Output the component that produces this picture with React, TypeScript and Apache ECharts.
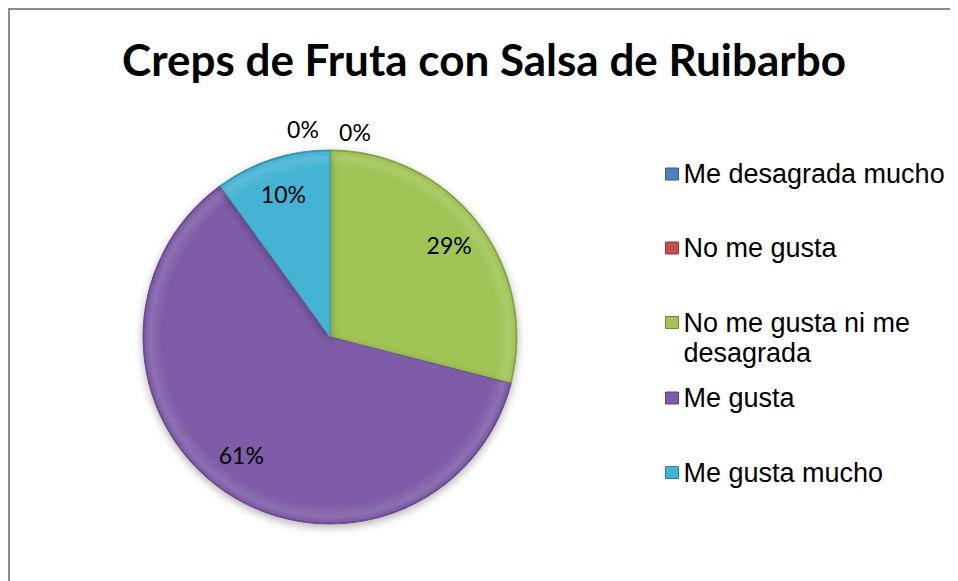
import React, { useEffect, useRef } from 'react';
import * as echarts from 'echarts';

// ---- data ----
const categories = [
  'Me desagrada mucho',
  'No me gusta',
  'No me gusta ni me desagrada',
  'Me gusta',
  'Me gusta mucho',
];
const values = [0, 0, 29, 61, 10];
const legendTexts = [
  'Me desagrada mucho',
  'No me gusta',
  '\nNo me gusta ni me\ndesagrada',
  'Me gusta',
  'Me gusta mucho',
];
const titleText = 'Creps de Fruta con Salsa de Ruibarbo';

// ---- styles ----
const sliceColors = ['#4F81BD', '#C0504D', '#A0C455', '#7E5CA7', '#45B3D3'];

function mix(hex: string, target: number, t: number): string {
  const n = parseInt(hex.slice(1), 16);
  const r = (n >> 16) & 255, g = (n >> 8) & 255, b = n & 255;
  const f = (c: number) => Math.round(c + (target - c) * t);
  return `rgb(${f(r)},${f(g)},${f(b)})`;
}

const CX = 320, CY = 327, R = 187;

export default function App() {
  const ref = useRef<HTMLDivElement>(null);
  useEffect(() => {
    if (!ref.current) return;
    const chart = echarts.init(ref.current, undefined, { renderer: 'svg' });

    const mainData = categories.map((name, i) => ({
      name,
      value: values[i],
      itemStyle: {
        color: {
          type: 'radial', x: CX, y: CY, r: R, global: true,
          colorStops: [
            { offset: 0, color: sliceColors[i] },
            { offset: 0.9, color: sliceColors[i] },
            { offset: 0.96, color: mix(sliceColors[i], 255, 0.12) },
            { offset: 0.99, color: sliceColors[i] },
            { offset: 1, color: mix(sliceColors[i], 0, 0.35) },
          ],
        },
        borderColor: mix(sliceColors[i], 0, 0.15),
        borderWidth: values[i] > 0 ? 1 : 0,
        shadowBlur: 8,
        shadowOffsetY: 3,
        shadowColor: 'rgba(0,0,0,0.3)',
      },
    }));
    const plainData = categories.map((name, i) => ({ name, value: values[i] }));

    const zeroIdx = values.map((v, i) => (v === 0 ? i : -1)).filter((i) => i >= 0);

    const iconCenters = [164, 238, 312.5, 388, 462.5];
    const legends = categories.map((name, i) => {
      const lines = legendTexts[i].split('\n').length;
      return {
        data: [{ name, itemStyle: { color: sliceColors[i], borderColor: mix(sliceColors[i], 0, 0.3), borderWidth: 1 } }],
        orient: 'vertical',
        left: 655,
        top: iconCenters[i] - 15 * lines,
        padding: 0,
        itemWidth: 13,
        itemHeight: 12,
        icon: 'rect',
        selectedMode: false,
        formatter: () => legendTexts[i],
        textStyle: {
          fontFamily: '"Liberation Sans", Arial, sans-serif',
          fontSize: 27,
          lineHeight: 30,
          color: '#000',
        },
      };
    });

    const labelFont = { fontFamily: 'Lato, "Noto Sans", sans-serif', fontSize: 23, color: '#000' };

    chart.setOption({
      animation: false,
      title: {
        text: titleText,
        left: 'center',
        top: 22,
        textStyle: {
          fontFamily: 'Lato, "Open Sans", sans-serif',
          fontWeight: 'bold',
          fontSize: 44,
          color: '#000',
        },
      },
      legend: legends,
      series: [
        {
          type: 'pie',
          center: [CX, CY],
          radius: R,
          startAngle: 90,
          clockwise: true,
          silent: true,
          label: { show: false },
          labelLine: { show: false },
          emphasis: { disabled: true },
          data: mainData,
        },
        {
          type: 'pie',
          center: [CX, CY],
          radius: [R * 0.58, R],
          startAngle: 90,
          clockwise: true,
          silent: true,
          itemStyle: { color: 'rgba(0,0,0,0)', borderWidth: 0 },
          label: {
            show: true,
            position: 'inside',
            ...labelFont,
            formatter: (p: any) => (p.value > 0 ? `${Math.round(p.percent)}%` : ''),
          },
          labelLayout: (p: any) => (values[p.dataIndex] === 61 ? { dx: -4, dy: -7 } : {}),
          labelLine: { show: false },
          emphasis: { disabled: true },
          data: plainData,
        },
        {
          type: 'pie',
          center: [CX, CY],
          radius: [R, R * 1.18],
          startAngle: 90,
          clockwise: true,
          silent: true,
          itemStyle: { color: 'rgba(0,0,0,0)', borderWidth: 0 },
          label: {
            show: true,
            position: 'inside',
            ...labelFont,
            formatter: (p: any) => (p.value === 0 ? `${Math.round(p.percent)}%` : ''),
          },
          labelLayout: (p: any) => {
            const k = zeroIdx.indexOf(p.dataIndex);
            if (k < 0) return {};
            return { dx: k % 2 === 0 ? -27 : 25, dy: k % 2 === 0 ? -1.5 : 1.5 };
          },
          labelLine: { show: false },
          emphasis: { disabled: true },
          data: plainData,
        },
      ],
    });
    return () => chart.dispose();
  }, []);

  return (
    <div
      style={{
        width: 948,
        height: 571,
        borderLeft: '2px solid #8c8c8c',
        borderTop: '2px solid #8c8c8c',
        overflow: 'hidden',
      }}
    >
      <div ref={ref} style={{ width: 948, height: 571 }} />
    </div>
  );
}
